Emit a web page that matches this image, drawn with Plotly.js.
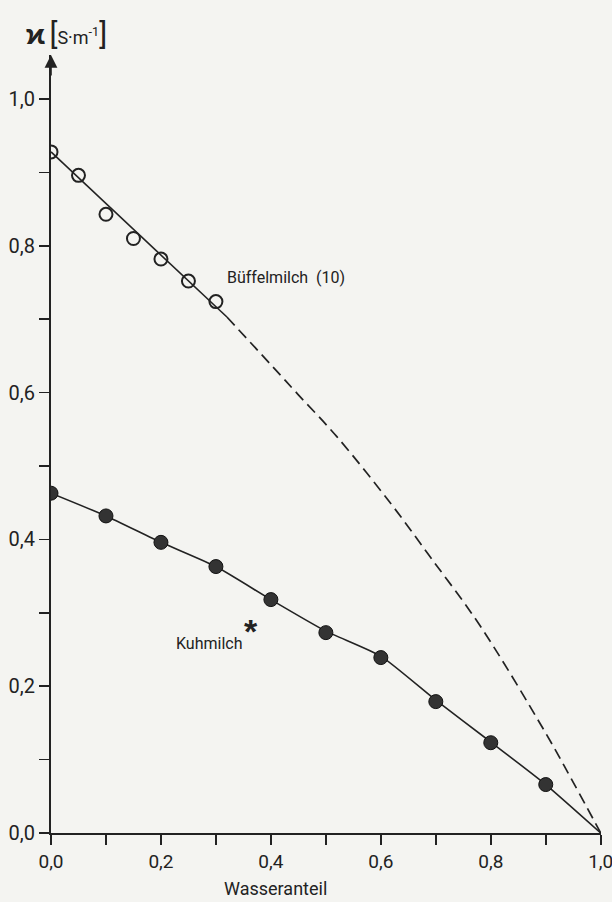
<!DOCTYPE html>
<html>
<head>
<meta charset="utf-8">
<script src="https://cdn.plot.ly/plotly-3.0.1.min.js"></script>
<style>
html,body{margin:0;padding:0;background:#f4f4f1;}
#chart{width:612px;height:902px;}
</style>
</head>
<body>
<div id="chart"></div>
<script>
// Büffelmilch (10) measured points (open circles)
var buffX = [0.0, 0.05, 0.10, 0.15, 0.20, 0.25, 0.30];
var buffY = [0.928, 0.896, 0.843, 0.810, 0.782, 0.752, 0.724];
// Büffelmilch fitted solid line
var buffFitX = [0.0, 0.32];
var buffFitY = [0.928, 0.703];
// Büffelmilch extrapolated dashed curve
var buffExtX = [0.32, 0.40, 0.45, 0.52, 0.62, 0.69, 0.78, 0.90, 0.95, 1.0];
var buffExtY = [0.703, 0.638, 0.597, 0.540, 0.447, 0.376, 0.283, 0.136, 0.069, 0.0];
// Kuhmilch measured points (filled circles)
var kuhX = [0.0, 0.1, 0.2, 0.3, 0.4, 0.5, 0.6, 0.7, 0.8, 0.9];
var kuhY = [0.463, 0.432, 0.396, 0.363, 0.318, 0.273, 0.239, 0.179, 0.123, 0.066];
// Kuhmilch line (ends at pure water)
var kuhLineX = [0.0, 0.1, 0.2, 0.3, 0.4, 0.5, 0.6, 0.7, 0.8, 0.9, 1.0];
var kuhLineY = [0.463, 0.432, 0.396, 0.363, 0.318, 0.275, 0.241, 0.181, 0.124, 0.066, 0.0];
// ticks
var xTickVals = [0, 0.1, 0.2, 0.3, 0.4, 0.5, 0.6, 0.7, 0.8, 0.9, 1.0];
var xTickText = ["0,0", "", "0,2", "", "0,4", "", "0,6", "", "0,8", "", "1,0"];
var yTickVals = [0, 0.1, 0.2, 0.3, 0.4, 0.5, 0.6, 0.7, 0.8, 0.9, 1.0];
var yTickText = ["0,0", "", "0,2", "", "0,4", "", "0,6", "", "0,8", "", "1,0"];

var ink = '#222222';
var fontFam = 'Roboto, "Liberation Sans", sans-serif';

var traces = [
  {x: buffFitX, y: buffFitY, mode: 'lines', line: {color: ink, width: 1.6}, hoverinfo: 'skip'},
  {x: buffExtX, y: buffExtY, mode: 'lines', line: {color: ink, width: 1.7, dash: '11px,6px', shape: 'spline', smoothing: 1}, hoverinfo: 'skip'},
  {x: buffX, y: buffY, mode: 'markers', marker: {symbol: 'circle-open', size: 13, color: ink, line: {width: 2, color: ink}}},
  {x: kuhLineX, y: kuhLineY, mode: 'lines', line: {color: ink, width: 1.6, shape: 'spline', smoothing: 0.5}, hoverinfo: 'skip'},
  {x: kuhX, y: kuhY, mode: 'markers', marker: {symbol: 'circle', size: 14, color: '#333333', line: {width: 1, color: '#111'}}}
];

var layout = {
  width: 612, height: 902,
  margin: {l: 50.7, r: 11.3, t: 55, b: 69, pad: 0},
  paper_bgcolor: '#f4f4f1',
  plot_bgcolor: 'rgba(0,0,0,0)',
  showlegend: false,
  font: {family: fontFam, color: ink, size: 20},
  xaxis: {
    range: [0, 1.0005], showgrid: false, zeroline: false,
    showline: true, linecolor: ink, linewidth: 2,
    tickmode: 'array', tickvals: xTickVals, ticktext: xTickText,
    ticks: 'outside', ticklen: 10, tickwidth: 1.6, tickcolor: ink,
    ticklabeloverflow: 'allow',
    tickfont: {family: fontFam, size: 19, color: ink}
  },
  yaxis: {
    range: [0, 1.06], showgrid: false, zeroline: false,
    showline: true, linecolor: ink, linewidth: 2,
    tickmode: 'array', tickvals: yTickVals, ticktext: yTickText,
    ticks: 'outside', ticklen: 10, tickwidth: 1.6, tickcolor: ink,
    tickfont: {family: fontFam, size: 20, color: ink}
  },
  annotations: [
    {x: 0, y: 1.06, ax: 0, ay: 1.03, xref: 'x', yref: 'y', axref: 'x', ayref: 'y',
     text: '', showarrow: true, arrowhead: 2, arrowsize: 1.6, arrowwidth: 1.6, arrowcolor: ink},
    {x: -0.049, y: 1.028, xref: 'paper', yref: 'paper', xanchor: 'left', yanchor: 'middle', showarrow: false,
     text: '<span style="font-size:28px"><b>ϰ</b></span> <span style="font-size:30px">[</span>S·m<sup>-1</sup><span style="font-size:30px">]</span>',
     font: {family: fontFam, size: 18, color: ink}},
    {x: 0.408, y: -0.0707, xref: 'paper', yref: 'paper', xanchor: 'center', yanchor: 'middle', showarrow: false,
     text: 'Wasseranteil', font: {family: fontFam, size: 18, color: ink}},
    {x: 0.317, y: 0.757, xref: 'x', yref: 'y', xanchor: 'left', yanchor: 'middle', showarrow: false,
     text: 'Büffelmilch  (10)', font: {family: fontFam, size: 16, color: ink}},
    {x: 0.224, y: 0.258, xref: 'x', yref: 'y', xanchor: 'left', yanchor: 'middle', showarrow: false,
     text: 'Kuhmilch', font: {family: fontFam, size: 16, color: ink}},
    {x: 0.364, y: 0.275, xref: 'x', yref: 'y', xanchor: 'center', yanchor: 'middle', showarrow: false,
     text: '<b>*</b>', font: {family: '"Liberation Sans", sans-serif', size: 34, color: ink}}
  ]
};

Plotly.newPlot('chart', traces, layout, {displayModeBar: false, staticPlot: true});
</script>
</body>
</html>
